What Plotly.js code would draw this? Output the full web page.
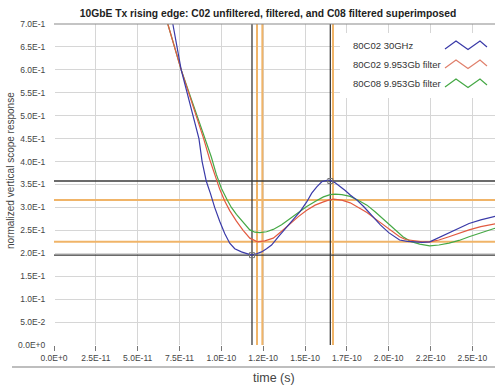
<!DOCTYPE html>
<html>
<head>
<meta charset="utf-8">
<script src="https://cdn.plot.ly/plotly-3.0.1.min.js"></script>
<style>html,body{margin:0;padding:0;background:#fff;}#chart{width:500px;height:387px;}</style>
</head>
<body>
<div id="chart"></div>
<script>
// ---- data (time in seconds, normalized response) ----
const seriesNames = ["80C02 30GHz", "80C02 9.953Gb filter", "80C08 9.953Gb filter"];

const timeBlue = [66e-12,71e-12,76e-12,83e-12,86.6e-12,88.5e-12,91e-12,93.5e-12,96e-12,99e-12,102e-12,105e-12,108e-12,112e-12,115e-12,118e-12,121e-12,124e-12,127e-12,130e-12,134e-12,139e-12,143e-12,147e-12,151e-12,154e-12,157e-12,160e-12,163e-12,165e-12,168e-12,171e-12,174e-12,177e-12,181e-12,185e-12,190e-12,195e-12,200e-12,206.5e-12,211e-12,216.5e-12,220e-12,224.5e-12,230e-12,236e-12,242e-12,248e-12,255e-12,263e-12,266e-12];
const valBlue  = [0.79,0.70,0.60,0.50,0.45,0.40,0.357,0.330,0.300,0.270,0.243,0.222,0.210,0.203,0.199,0.196,0.199,0.203,0.210,0.218,0.236,0.258,0.275,0.291,0.312,0.331,0.345,0.356,0.359,0.359,0.354,0.346,0.337,0.327,0.316,0.302,0.282,0.262,0.245,0.229,0.226,0.225,0.224,0.225,0.234,0.244,0.254,0.265,0.273,0.280,0.283];

const timeRed = [62e-12,68e-12,76e-12,85e-12,89.4e-12,93e-12,96e-12,99e-12,102e-12,105e-12,109e-12,113e-12,117e-12,121.5e-12,126e-12,131e-12,136e-12,141e-12,146e-12,151e-12,156e-12,161e-12,164e-12,167e-12,172e-12,177e-12,182e-12,187e-12,192e-12,197e-12,202e-12,206.5e-12,210e-12,214.5e-12,220e-12,224.5e-12,230e-12,236e-12,242e-12,248e-12,255e-12,263e-12,266e-12];
const valRed  = [0.78,0.70,0.60,0.50,0.45,0.405,0.370,0.340,0.314,0.293,0.270,0.250,0.233,0.225,0.227,0.233,0.248,0.265,0.280,0.294,0.305,0.312,0.316,0.318,0.316,0.310,0.300,0.289,0.275,0.262,0.248,0.236,0.230,0.227,0.225,0.225,0.229,0.236,0.244,0.251,0.258,0.264,0.266];

const timeGreen = [62e-12,68e-12,76e-12,85.5e-12,90e-12,94e-12,97e-12,100e-12,103.5e-12,106e-12,109e-12,113e-12,117e-12,120e-12,123e-12,127e-12,131e-12,136e-12,141e-12,146e-12,151e-12,156e-12,161e-12,165e-12,168e-12,172e-12,177e-12,182e-12,187e-12,192e-12,197e-12,203e-12,208.5e-12,213e-12,218.5e-12,224.5e-12,230e-12,236e-12,242e-12,248e-12,255e-12,263e-12,266e-12];
const valGreen  = [0.77,0.70,0.60,0.50,0.45,0.410,0.372,0.342,0.316,0.300,0.285,0.267,0.251,0.246,0.245,0.247,0.252,0.262,0.276,0.290,0.302,0.313,0.323,0.328,0.329,0.328,0.324,0.315,0.305,0.290,0.273,0.254,0.236,0.226,0.220,0.216,0.218,0.222,0.228,0.236,0.245,0.254,0.256];

// cursors
const cursorBlackX  = [118.3e-12, 165.1e-12];
const cursorOrangeX = [121.3e-12, 124.5e-12, 166.7e-12];
const cursorBlackY  = [0.3576, 0.196];
const cursorOrangeY = [0.316, 0.2253];

// ticks
const xTickVals = [0,25e-12,50e-12,75e-12,100e-12,125e-12,150e-12,175e-12,200e-12,225e-12,250e-12];
const xTickText = ["0.0E+0","2.5E-11","5.0E-11","7.5E-11","1.0E-10","1.2E-10","1.5E-10","1.7E-10","2.0E-10","2.2E-10","2.5E-10"];
const yTickVals = [0,0.05,0.1,0.15,0.2,0.25,0.3,0.35,0.4,0.45,0.5,0.55,0.6,0.65,0.7];
const yTickText = ["0.0E+0","5.0E-2","1.0E-1","1.5E-1","2.0E-1","2.5E-1","3.0E-1","3.5E-1","4.0E-1","4.5E-1","5.0E-1","5.5E-1","6.0E-1","6.5E-1","7.0E-1"];

const xMax = 263.5e-12, yMax = 0.7;

// ---- styles ----
const colBlue = '#3a3aa8', colRed = '#e25a40', colGreen = '#45a845';
const colGlyphRed = '#e0806c';
const colOrange = '#f0b468', colBlack = '#3a3a3a';
const FONT = 'Liberation Sans, Arial, sans-serif';

// plot-area pixel geometry (for paper-coordinate decorations)
const L = 54, R = 495, T = 24, B = 345;
const px = x => (x - L) / (R - L);
const py = y => (B - y) / (B - T);

const traces = [];
cursorOrangeX.forEach(c => traces.push({x:[c,c], y:[0,yMax], mode:'lines', line:{color:colOrange,width:2}, showlegend:false, hoverinfo:'skip'}));
cursorOrangeY.forEach(c => traces.push({x:[0,xMax], y:[c,c], mode:'lines', line:{color:colOrange,width:2}, showlegend:false, hoverinfo:'skip'}));
cursorBlackX.forEach(c => traces.push({x:[c,c], y:[0,yMax], mode:'lines', line:{color:colBlack,width:1.3}, showlegend:false, hoverinfo:'skip'}));
cursorBlackY.forEach(c => traces.push({x:[0,xMax], y:[c,c], mode:'lines', line:{color:colBlack,width:1.3}, showlegend:false, hoverinfo:'skip'}));

traces.push({x:timeGreen, y:valGreen, name:seriesNames[2], mode:'lines', line:{color:colGreen,width:1.2}, showlegend:false});
traces.push({x:timeRed, y:valRed, name:seriesNames[1], mode:'lines', line:{color:colRed,width:1.2}, showlegend:false});
traces.push({x:timeBlue, y:valBlue, name:seriesNames[0], mode:'lines', line:{color:colBlue,width:1.2}, showlegend:false});

traces.push({x:cursorBlackX, y:cursorBlackY.slice().reverse(), mode:'markers', marker:{symbol:'square-open', size:5, color:'#777', line:{width:1}}, showlegend:false, hoverinfo:'skip'});

// legend (custom: text left, zigzag glyph right)
const legendColors = [colBlue, colGlyphRed, colGreen];
const legendRows = [45, 64, 83];
const shapes = [
  {type:'rect', xref:'paper', yref:'paper', x0:px(340), x1:px(495), y0:py(98), y1:py(33), fillcolor:'#ffffff', line:{width:0}, layer:'above'},
  {type:'line', xref:'paper', yref:'paper', x0:0, x1:1, y0:1, y1:1, line:{color:'#8a8a8a', width:1.2}, layer:'above'},
  {type:'line', xref:'paper', yref:'paper', x0:px(12), x1:px(495), y0:py(367), y1:py(367), line:{color:'#a8a8a8', width:1.3}}
];
const annotations = [];
legendRows.forEach((yc, i) => {
  const pts = [[445,yc+4],[456,yc-4],[468,yc+4.5],[480,yc-4],[487,yc+2]];
  const path = pts.map((p, k) => (k ? 'L' : 'M') + px(p[0]) + ',' + py(p[1])).join(' ');
  shapes.push({type:'path', xref:'paper', yref:'paper', path:path, line:{color:legendColors[i], width:1.2}, layer:'above'});
  annotations.push({xref:'paper', yref:'paper', x:px(351), y:py(yc), xanchor:'left', yanchor:'middle', text:seriesNames[i], showarrow:false, font:{family:FONT, size:9.5, color:'#333'}});
});
annotations.push({xref:'paper', yref:'paper', x:px(10), y:py(171), textangle:-90, xanchor:'center', yanchor:'middle', text:'normalized vertical scope response', showarrow:false, font:{family:FONT, size:10, color:'#444'}});
annotations.push({xref:'paper', yref:'paper', x:px(274), y:py(378), xanchor:'center', yanchor:'middle', text:'time (s)', showarrow:false, font:{family:FONT, size:12.5, color:'#444'}});

const layout = {
  width:500, height:387,
  margin:{l:L, r:500-R, t:T, b:387-B, pad:0},
  paper_bgcolor:'#ffffff', plot_bgcolor:'#ffffff',
  title:{text:'10GbE Tx rising edge: C02 unfiltered, filtered, and C08 filtered superimposed', x:268/500, xanchor:'center', y:1-13/387, yanchor:'middle', font:{family:FONT, size:10.3, weight:'bold', color:'#222'}},
  xaxis:{range:[0,xMax], tickvals:xTickVals, ticktext:xTickText, showgrid:true, gridcolor:'#d6d6d6', gridwidth:1, zeroline:true, zerolinecolor:'#ffffff', showline:false, ticks:'outside', ticklen:5, tickcolor:'#777', tickfont:{family:FONT, size:8.5, color:'#444'}},
  yaxis:{range:[0,yMax], tickvals:yTickVals, ticktext:yTickText, showgrid:true, gridcolor:'#d6d6d6', gridwidth:1, zeroline:true, zerolinecolor:'#ffffff', showline:false, ticks:'outside', ticklen:6, tickcolor:'rgba(0,0,0,0)', tickfont:{family:FONT, size:8.5, color:'#444'}},
  shapes:shapes,
  annotations:annotations,
  showlegend:false
};

Plotly.newPlot('chart', traces, layout, {staticPlot:true, displayModeBar:false});
</script>
</body>
</html>
